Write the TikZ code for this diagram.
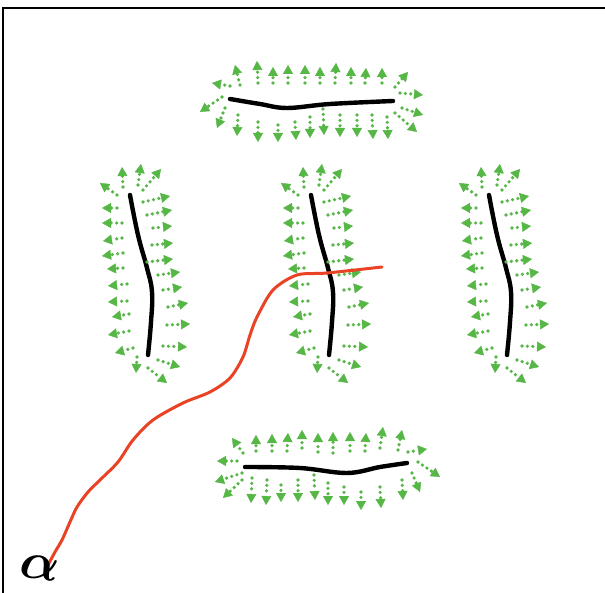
\documentclass[tikz,border=0pt]{standalone}
\usepackage{bm}
\usetikzlibrary{arrows.meta}
\definecolor{fieldgreen}{RGB}{86,182,70}
\definecolor{pathred}{RGB}{234,66,36}

\begin{document}
\begin{tikzpicture}[x=1pt,y=-1pt,
  fieldarrow/.style={fieldgreen,line width=3.6pt,line cap=round,
    dash pattern=on 0pt off 5.4pt,
    -{Triangle[length=9pt,width=10pt,line width=0.4pt]}},
  barline/.style={line width=4.4pt,line cap=round,line join=round},
  pathline/.style={pathred,line width=3pt,line cap=round,line join=round}]
\useasboundingbox (0,0) rectangle (605,593);

% frame
\draw[line width=2.6pt] (3,593) -- (3,8) -- (605,8);

% top bar
\draw[barline] plot[smooth,tension=0.6] coordinates
  {(230,99) (260,104) (287,108) (330,104) (393,101)};
\foreach \xa/\ya/\xb/\yb in {240/85/235/65, 258/83/257/61, 273/83/273/67,
  288/83/288/65, 305/83/305/65, 320/83/320/67, 335/83/336/63, 351/83/351/67,
  365/83/366/68, 382/83/382/68, 395/87/408/72, 400/93/423/95,
  402/108/423/115, 395/113/417/132, 387/117/388/139, 372/115/373/139,
  357/115/357/137, 340/115/340/137, 323/109/324/135, 310/117/310/138,
  295/122/296/140, 278/125/278/142, 258/122/258/142, 238/115/237/136,
  225/108/217/128, 222/97/200/112, 230/86/212/83}
  \draw[fieldarrow] (\xa,\ya) -- (\xb,\yb);

% bottom bar
\draw[barline] plot[smooth,tension=0.6] coordinates
  {(245,467) (300,468) (347,473) (380,467) (407,463)};
\foreach \xa/\ya/\xb/\yb in {243/453/232/438, 256/451/256/435, 272/451/272/434,
  287/451/288/433, 302/448/302/430, 318/452/318/433, 333/453/333/432,
  350/451/350/432, 365/451/366/433, 380/448/383/427, 398/450/402/430,
  408/452/427/449, 418/462/440/477, 412/473/420/492, 402/480/403/500,
  380/487/381/508, 361/492/361/510, 344/487/344/505, 328/483/328/505,
  314/475/315/500, 298/480/298/502, 281/485/281/502, 267/480/266/505,
  252/478/251/503, 242/480/223/498, 242/473/215/482, 237/461/217/461}
  \draw[fieldarrow] (\xa,\ya) -- (\xb,\yb);

% three upright bars
\foreach \s in {0,181,359}{
\begin{scope}[shift={(\s,0)}]
\draw[barline] plot[smooth,tension=0.7] coordinates
  {(130,195) (138,235) (147,268) (152,292) (151,322) (148,355)};
\foreach \xa/\ya/\xb/\yb in {117/208/102/208, 122/223/102/223, 122/238/103/241,
  123/253/102/256, 123/268/107/269, 127/284/108/286, 127/301/108/302,
  129/314/112/317, 129/331/108/335, 133/348/115/353,
  143/202/170/196, 147/215/172/210, 153/228/172/226, 152/245/173/243,
  147/262/173/259, 158/275/180/272, 163/290/182/287, 168/307/188/303,
  167/325/190/324, 163/346/187/347, 158/360/180/367,
  117/195/100/183, 123/187/122/167, 138/185/141/164, 143/190/161/169,
  137/357/136/373, 148/368/167/383}
  \draw[fieldarrow] (\xa,\ya) -- (\xb,\yb);
\end{scope}}

% path
\draw[pathline] plot[smooth,tension=0.5] coordinates
  {(48,565) (55,552) (62,540) (70,522) (77,507) (88,492) (100,480) (118,462)
   (133,440) (153,420) (183,403) (210,392) (230,378) (243,357) (250,335)
   (257,317) (273,290) (297,275) (327,273) (382,267)};

\node[scale=5.2,rotate=-8,inner sep=0pt] (alpha) at (40,568) {$\bm{\alpha}$};

\end{tikzpicture}
\end{document}
